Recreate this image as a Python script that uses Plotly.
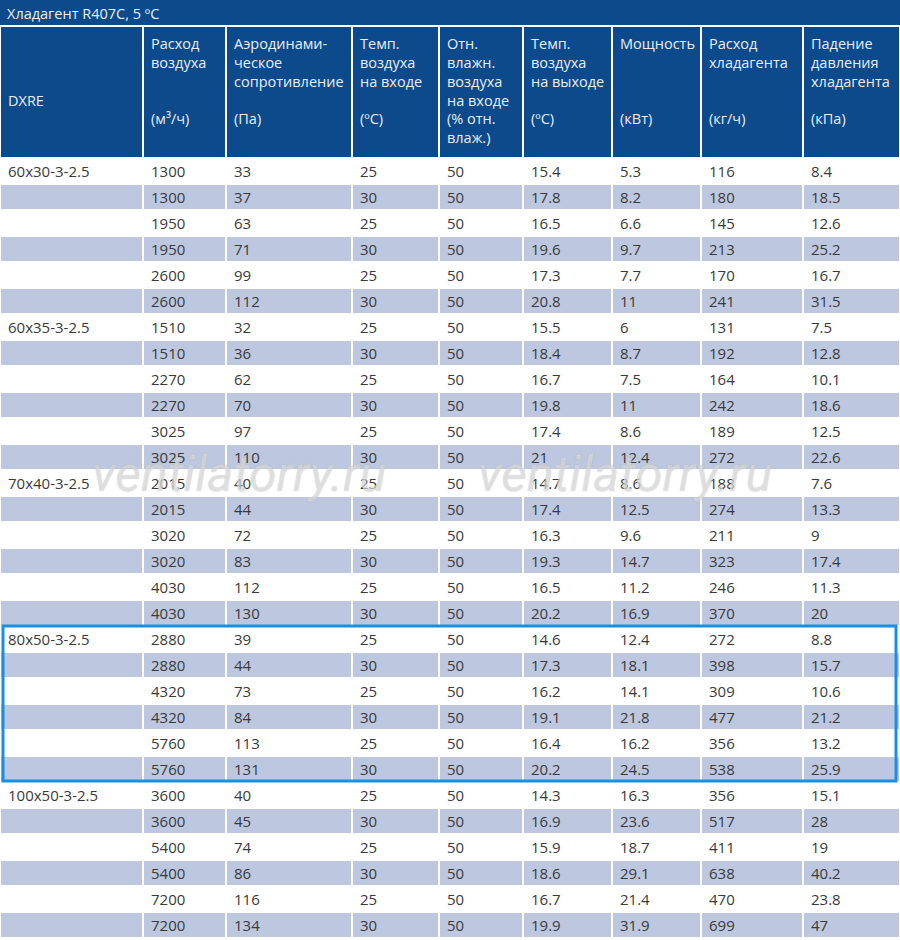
import plotly.graph_objects as go

title = "Хладагент R407C, 5 ºC"
headers = ["&nbsp;<br>&nbsp;<br>&nbsp;<br>DXRE", "Расход<br>воздуха<br><br><br>(м³/ч)",
           "Аэродинами-<br>ческое<br>сопротивление<br><br>(Па)",
           "Темп.<br>воздуха<br>на входе<br><br>(ºC)",
           "Отн.<br>влажн.<br>воздуха<br>на входе<br>(% отн.<br>влаж.)",
           "Темп.<br>воздуха<br>на выходе<br><br>(ºC)",
           "Мощность<br><br><br><br>(кВт)",
           "Расход<br>хладагента<br><br><br>(кг/ч)",
           "Падение<br>давления<br>хладагента<br><br>(кПа)"]
models = ["60x30-3-2.5", "60x35-3-2.5", "70x40-3-2.5", "80x50-3-2.5", "100x50-3-2.5"]
airflow = [1300,1300,1950,1950,2600,2600, 1510,1510,2270,2270,3025,3025,
           2015,2015,3020,3020,4030,4030, 2880,2880,4320,4320,5760,5760,
           3600,3600,5400,5400,7200,7200]
resist = [33,37,63,71,99,112, 32,36,62,70,97,110, 40,44,72,83,112,130,
          39,44,73,84,113,131, 40,45,74,86,116,134]
t_in = [25,30]*15
rh_in = [50]*30
t_out = [15.4,17.8,16.5,19.6,17.3,20.8, 15.5,18.4,16.7,19.8,17.4,21,
         14.7,17.4,16.3,19.3,16.5,20.2, 14.6,17.3,16.2,19.1,16.4,20.2,
         14.3,16.9,15.9,18.6,16.7,19.9]
power = [5.3,8.2,6.6,9.7,7.7,11, 6,8.7,7.5,11,8.6,12.4, 8.6,12.5,9.6,14.7,11.2,16.9,
         12.4,18.1,14.1,21.8,16.2,24.5, 16.3,23.6,18.7,29.1,21.4,31.9]
refr = [116,180,145,213,170,241, 131,192,164,242,189,272, 188,274,211,323,246,370,
        272,398,309,477,356,538, 356,517,411,638,470,699]
dp = [8.4,18.5,12.6,25.2,16.7,31.5, 7.5,12.8,10.1,18.6,12.5,22.6, 7.6,13.3,9,17.4,11.3,20,
      8.8,15.7,10.6,21.2,13.2,25.9, 15.1,28,19,40.2,23.8,47]
watermark = "ventilatorry.ru"

model_col = []
for m in models:
    model_col += [m] + [""]*5

def fmt(v):
    return f"{v:g}"

cols = [model_col] + [[fmt(v) for v in c] for c in
                      [airflow, resist, t_in, rh_in, t_out, power, refr, dp]]
n = len(airflow)
DARK = "#0d4a8b"
LIGHT = "#bdc8e0"
row_fill = ["white" if i % 2 == 0 else LIGHT for i in range(n)]

widths = [143, 83, 126, 87, 84, 89, 89, 102, 97]

fig = go.Figure(go.Table(
    columnwidth=widths,
    domain=dict(x=[0, 1], y=[0, 1 - 26/940]),
    header=dict(values=headers, fill_color=DARK, line=dict(color="white", width=2),
                align="left", height=132,
                font=dict(family="Open Sans", size=14.5, color="#e8eef7")),
    cells=dict(values=cols, fill_color=[row_fill]*9, line=dict(color="white", width=2),
               align="left", height=26,
               font=dict(family="Open Sans", size=15, color="#3a3a3a")),
))
fig.add_shape(type="rect", xref="paper", yref="paper", x0=0, x1=1, y0=1-27/940, y1=1,
              fillcolor=DARK, line=dict(width=0), layer="below")
fig.add_annotation(text=title, xref="paper", yref="paper", x=5/900, y=1-13/940,
                   xanchor="left", yanchor="middle", showarrow=False,
                   font=dict(family="Open Sans", size=14.5, color="#e8eef7"))
fig.add_shape(type="rect", xref="paper", yref="paper", x0=3/900, x1=896/900,
              y0=1-781/940, y1=1-626/940, line=dict(color="#1a8fe0", width=3))
for xx in [90, 476]:
    fig.add_annotation(text="<i>" + watermark + "</i>", xref="paper", yref="paper",
                       x=xx/900, y=1-474/940, xanchor="left", yanchor="middle",
                       showarrow=False,
                       font=dict(family="Roboto", size=50, color="rgba(255,255,255,0.5)",
                                 shadow="0px 0px 1px #777"))
fig.update_layout(width=900, height=940, margin=dict(l=0, r=0, t=0, b=0),
                  paper_bgcolor="white")
fig.write_html("out.html", config={"displayModeBar": False})
with open("out.html", encoding="utf-8") as f:
    html = f.read()
html = html.replace("<head>", "<head><style>body{margin:0;}</style>", 1)
with open("out.html", "w", encoding="utf-8") as f:
    f.write(html)
